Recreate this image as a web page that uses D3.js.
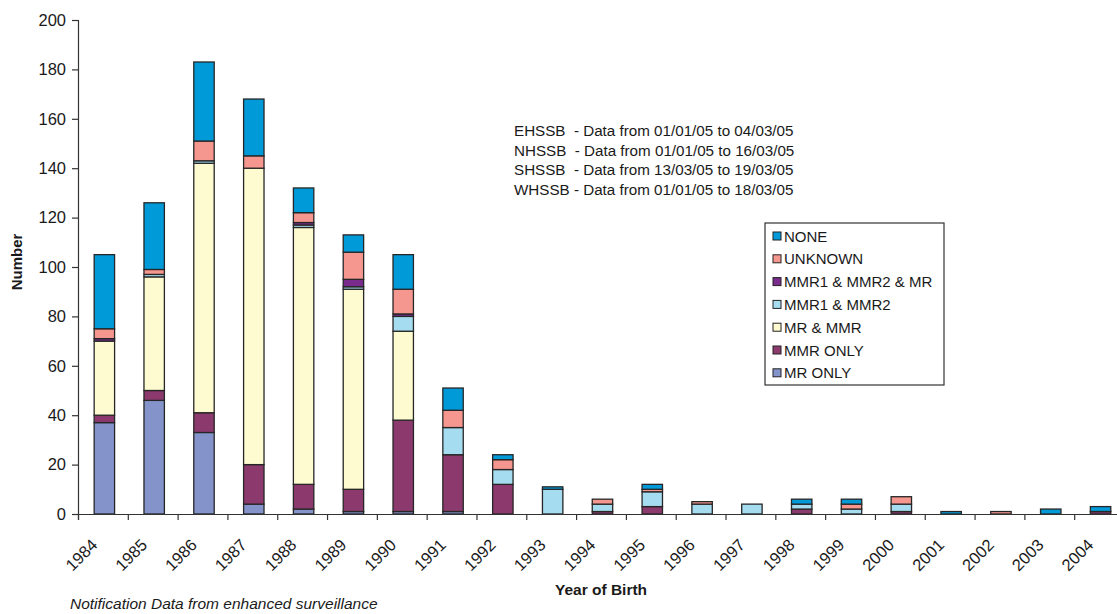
<!DOCTYPE html>
<html>
<head>
<meta charset="utf-8">
<script src="https://cdn.jsdelivr.net/npm/d3@7/dist/d3.min.js"></script>
<style>
  html, body { margin: 0; padding: 0; background: #fff; }
  svg { display: block; font-family: "Liberation Sans", Arial, sans-serif; }
</style>
</head>
<body>
<svg id="chart" width="1117" height="614"></svg>
<script>
// ---- data ----
const years = ["1984","1985","1986","1987","1988","1989","1990","1991","1992","1993","1994",
               "1995","1996","1997","1998","1999","2000","2001","2002","2003","2004"];
const mrOnly      = [37,46,33, 4,  2, 1, 1, 1, 0, 0,0,0,0,0,0,0,0,0,0,0,0];
const mmrOnly     = [ 3, 4, 8,16, 10, 9,37,23,12, 0,1,3,0,0,2,0,1,0,0,0,1];
const mrAndMmr    = [30,46,101,120,104,81,36,0,0, 0,0,0,0,0,0,0,0,0,0,0,0];
const mmr1mmr2    = [ 0, 1, 1, 0,  1, 1, 6,11, 6,10,3,6,4,4,2,2,3,0,0,0,0];
const mmr1mmr2mr  = [ 1, 0, 0, 0,  1, 3, 1, 0, 0, 0,0,0,0,0,0,0,0,0,0,0,0];
const unknown     = [ 4, 2, 8, 5,  4,11,10, 7, 4, 0,2,1,1,0,0,2,3,0,1,0,0];
const none        = [30,27,32,23, 10, 7,14, 9, 2, 1,0,2,0,0,2,2,0,1,0,2,2];
const yTicks = [0,20,40,60,80,100,120,140,160,180,200];
const seriesNames = ["MR ONLY","MMR ONLY","MR & MMR","MMR1 & MMR2","MMR1 & MMR2 & MR","UNKNOWN","NONE"];
const seriesValues = [mrOnly, mmrOnly, mrAndMmr, mmr1mmr2, mmr1mmr2mr, unknown, none];
const seriesColors = ["#8494cb","#8c3a6e","#fffbd0","#a6dcef","#7a2c8c","#f5978f","#009ad9"];
const notes = [
  "EHSSB  - Data from 01/01/05 to 04/03/05",
  "NHSSB  - Data from 01/01/05 to 16/03/05",
  "SHSSB  - Data from 13/03/05 to 19/03/05",
  "WHSSB - Data from 01/01/05 to 18/03/05"
];

// ---- build table ----
const table = years.map((yr, i) => {
  const row = { year: yr };
  seriesNames.forEach((s, k) => row[s] = seriesValues[k][i]);
  return row;
});
const stacked = d3.stack().keys(seriesNames)(table);

const svg = d3.select("#chart");
const x0 = 78, x1 = 1124, yTop = 20, yBot = 514;

const x = d3.scaleBand().domain(years).range([x0, x1])
  .paddingInner(0.59).paddingOuter(0.295).align(0.55);
const xb = d3.scaleLinear().domain([0, years.length]).range([x0, x1]);
const y = d3.scaleLinear().domain([0, 200]).range([yBot, yTop]);

// bars
svg.append("g").selectAll("g").data(stacked).join("g")
  .attr("fill", (d, i) => seriesColors[i])
  .selectAll("rect").data(d => d.filter(p => p[1] - p[0] > 0)).join("rect")
  .attr("x", d => x(d.data.year))
  .attr("width", x.bandwidth())
  .attr("y", d => y(d[1]))
  .attr("height", d => y(d[0]) - y(d[1]))
  .attr("stroke", "#262626")
  .attr("stroke-width", 1.3);

// y axis
const yAxis = svg.append("g").attr("transform", `translate(${x0},0)`)
  .call(d3.axisLeft(y).tickValues(yTicks).tickSize(6).tickPadding(6).tickFormat(d3.format("d")));
yAxis.select(".domain").attr("stroke", "#333").attr("stroke-width", 1.2);
yAxis.selectAll(".tick line").attr("stroke", "#333").attr("stroke-width", 1.2);
yAxis.selectAll(".tick text").attr("font-size", 16.5).attr("fill", "#1a1a1a")
  .attr("font-family", "Liberation Sans, Arial, sans-serif");

// x axis: boundary ticks
const xAxis = svg.append("g").attr("transform", `translate(0,${yBot})`)
  .call(d3.axisBottom(xb).tickValues(d3.range(0, years.length + 1)).tickSize(6).tickFormat(""));
xAxis.select(".domain").attr("stroke", "#333").attr("stroke-width", 1.2);
xAxis.selectAll(".tick line").attr("stroke", "#333").attr("stroke-width", 1.2);

// x labels
svg.append("g").selectAll("text").data(years).join("text")
  .attr("transform", d => `translate(${x(d) + x.bandwidth() / 2 - 6},546) rotate(-45)`)
  .attr("text-anchor", "end")
  .attr("font-size", 16.5)
  .attr("fill", "#1a1a1a")
  .text(d => d);

// axis titles
svg.append("text")
  .attr("transform", `translate(22,262) rotate(-90)`)
  .attr("text-anchor", "middle")
  .attr("font-size", 15)
  .attr("font-weight", "bold")
  .attr("fill", "#1a1a1a")
  .text("Number");

svg.append("text")
  .attr("x", (x0 + x1) / 2).attr("y", 595)
  .attr("text-anchor", "middle")
  .attr("font-size", 15.5)
  .attr("font-weight", "bold")
  .attr("fill", "#1a1a1a")
  .text("Year of Birth");

svg.append("text")
  .attr("x", 70).attr("y", 609)
  .attr("font-size", 15.5)
  .attr("font-style", "italic")
  .attr("fill", "#1a1a1a")
  .text("Notification Data from enhanced surveillance");

// notes
svg.append("g").selectAll("text").data(notes).join("text")
  .attr("x", 514)
  .attr("y", (d, i) => 136 + i * 19.5)
  .attr("font-size", 15.2)
  .attr("fill", "#1a1a1a")
  .style("white-space", "pre")
  .attr("xml:space", "preserve")
  .text(d => d);

// legend
const lg = svg.append("g");
lg.append("rect").attr("x", 765).attr("y", 223).attr("width", 179).attr("height", 162)
  .attr("fill", "#fff").attr("stroke", "#333").attr("stroke-width", 1.2);
const legendOrder = seriesNames.map((n, i) => i).reverse();
const items = lg.selectAll("g").data(legendOrder).join("g")
  .attr("transform", (d, i) => `translate(773,${236 + i * 22.8})`);
items.append("rect").attr("x", 0).attr("y", -4).attr("width", 8).attr("height", 8)
  .attr("fill", d => seriesColors[d]).attr("stroke", "#222").attr("stroke-width", 1);
items.append("text").attr("x", 11).attr("y", 5.5)
  .attr("font-size", 15)
  .attr("fill", "#1a1a1a")
  .text(d => seriesNames[d]);
</script>
</body>
</html>
